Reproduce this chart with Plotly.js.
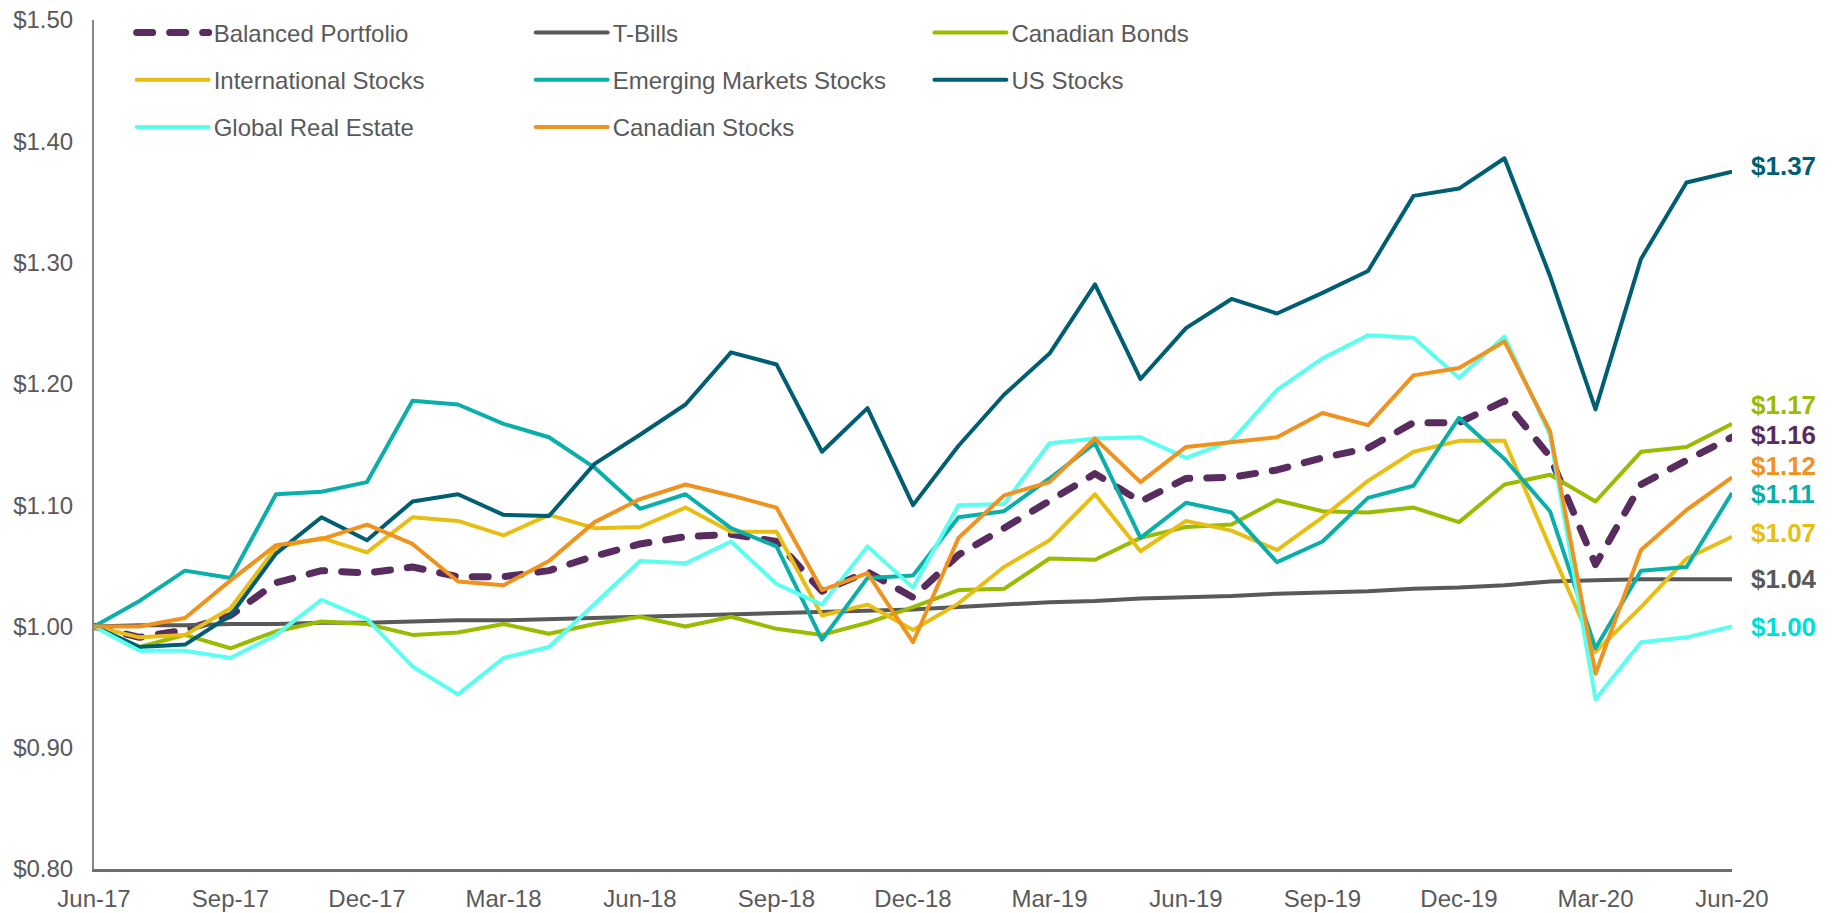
<!DOCTYPE html>
<html>
<head>
<meta charset="utf-8">
<script src="https://cdn.plot.ly/plotly-3.0.1.min.js"></script>
<style>
  html, body { margin: 0; padding: 0; background: #ffffff; }
  #chart { width: 1841px; height: 913px; }
</style>
</head>
<body>
<div id="chart"></div>
<script>
// ---------------- DATA ----------------
const months = ['Jun-17','Jul-17','Aug-17','Sep-17','Oct-17','Nov-17','Dec-17','Jan-18','Feb-18','Mar-18','Apr-18','May-18',
                'Jun-18','Jul-18','Aug-18','Sep-18','Oct-18','Nov-18','Dec-18','Jan-19','Feb-19','Mar-19','Apr-19','May-19',
                'Jun-19','Jul-19','Aug-19','Sep-19','Oct-19','Nov-19','Dec-19','Jan-20','Feb-20','Mar-20','Apr-20','May-20','Jun-20'];
const tickLabels = ['Jun-17','Sep-17','Dec-17','Mar-18','Jun-18','Sep-18','Dec-18','Mar-19','Jun-19','Sep-19','Dec-19','Mar-20','Jun-20'];

const balancedPortfolio = [1.000,0.991,0.997,1.009,1.036,1.046,1.044,1.049,1.041,1.041,1.046,1.058,
                           1.068,1.074,1.076,1.070,1.029,1.045,1.024,1.059,1.081,1.103,1.126,1.103,
                           1.122,1.123,1.129,1.139,1.147,1.168,1.168,1.186,1.140,1.051,1.117,1.137,1.156];
const tBills = [1.000,1.001,1.001,1.002,1.002,1.003,1.003,1.004,1.005,1.005,1.006,1.007,
                1.008,1.009,1.010,1.011,1.012,1.013,1.014,1.016,1.018,1.020,1.021,1.023,
                1.024,1.025,1.027,1.028,1.029,1.031,1.032,1.034,1.037,1.038,1.039,1.039,1.039];
const canadianBonds = [1.000,0.983,0.993,0.982,0.996,1.004,1.002,0.993,0.995,1.002,0.994,1.002,
                       1.008,1.000,1.008,0.998,0.993,1.003,1.016,1.030,1.031,1.056,1.055,1.073,
                       1.082,1.084,1.104,1.095,1.094,1.098,1.086,1.117,1.125,1.103,1.144,1.148,1.167];
const internationalStocks = [1.000,0.991,0.993,1.015,1.065,1.073,1.061,1.090,1.087,1.075,1.092,1.081,
                             1.082,1.098,1.078,1.078,1.009,1.018,0.997,1.019,1.049,1.071,1.109,1.062,
                             1.087,1.079,1.063,1.090,1.120,1.144,1.153,1.153,1.065,0.979,1.016,1.056,1.074];
const emergingMarketsStocks = [1.000,1.021,1.046,1.040,1.109,1.111,1.119,1.186,1.183,1.167,1.156,1.131,
                               1.097,1.109,1.081,1.066,0.989,1.040,1.042,1.090,1.095,1.122,1.151,1.073,
                               1.102,1.094,1.053,1.070,1.106,1.116,1.172,1.138,1.095,0.982,1.046,1.049,1.110];
const usStocks = [1.000,0.983,0.985,1.009,1.060,1.090,1.071,1.103,1.109,1.092,1.091,1.134,
                  1.158,1.183,1.226,1.216,1.144,1.180,1.100,1.149,1.191,1.225,1.282,1.204,
                  1.246,1.270,1.258,1.275,1.293,1.355,1.361,1.386,1.289,1.179,1.303,1.366,1.375];
const globalRealEstate = [1.000,0.980,0.980,0.974,0.993,1.022,1.006,0.967,0.944,0.974,0.983,1.018,
                          1.054,1.052,1.070,1.035,1.018,1.066,1.032,1.100,1.101,1.151,1.155,1.156,
                          1.139,1.153,1.195,1.221,1.240,1.238,1.205,1.239,1.158,0.940,0.987,0.991,1.000];
const canadianStocks = [1.000,1.000,1.007,1.038,1.067,1.072,1.084,1.068,1.037,1.034,1.054,1.086,
                        1.105,1.117,1.108,1.098,1.030,1.044,0.987,1.073,1.108,1.119,1.155,1.119,
                        1.148,1.152,1.156,1.176,1.166,1.207,1.213,1.235,1.161,0.961,1.063,1.096,1.123];

const seriesNames = ['Balanced Portfolio','T-Bills','Canadian Bonds','International Stocks',
                     'Emerging Markets Stocks','US Stocks','Global Real Estate','Canadian Stocks'];
const endLabels = ['$1.16','$1.04','$1.17','$1.07','$1.11','$1.37','$1.00','$1.12'];

// ---------------- STYLE / LAYOUT ----------------
const FONT = 'Arial, "Liberation Sans", Helvetica, sans-serif';
const GRAY = '#595959';
const seriesData = [balancedPortfolio, tBills, canadianBonds, internationalStocks,
                    emergingMarketsStocks, usStocks, globalRealEstate, canadianStocks];
const lineColors  = ['#582C5E','#595959','#99BB00','#E9BE13','#0AAFAA','#005E72','#5BFFF0','#F0921E'];
const labelColors = ['#582C5E','#595959','#99BB00','#E9BE13','#0AAFAA','#005E72','#00DEDA','#F0921E'];
const legendOf    = ['legend','legend2','legend3','legend','legend2','legend3','legend','legend2'];
// vertical placement (in axis units) of the end labels, nudged apart to avoid overlap
const labelPos    = [1.1575,1.0387,1.1825,1.0774,1.1095,1.3795,0.9992,1.1325];

const traces = seriesData.map((vals, k) => ({
  type: 'scatter',
  mode: 'lines',
  name: seriesNames[k],
  x: months,
  y: vals,
  legend: legendOf[k],
  legendgroup: 'g' + k,
  line: k === 0
    ? { color: lineColors[k], width: 7, dash: '16px,17px' }
    : { color: lineColors[k], width: 4 },
  hoverinfo: 'skip'
}));

const annotations = seriesData.map((vals, k) => ({
  x: months[months.length - 1],
  y: labelPos[k],
  xref: 'x', yref: 'y',
  text: endLabels[k],
  showarrow: false,
  xanchor: 'left', yanchor: 'middle',
  xshift: 17,
  height: 24,
  font: { family: FONT, size: 26, color: labelColors[k], weight: 700 }
}));

const legendBase = {
  yanchor: 'top', xanchor: 'left', y: 1.01,
  bgcolor: 'rgba(0,0,0,0)',
  font: { family: FONT, size: 24, color: GRAY },
  itemwidth: 72,
  tracegroupgap: 13,
  traceorder: 'grouped'
};

const layout = {
  width: 1841, height: 913,
  margin: { l: 94, r: 109, t: 19, b: 44, pad: 0 },
  paper_bgcolor: '#ffffff', plot_bgcolor: '#ffffff',
  font: { family: FONT, size: 24, color: GRAY },
  showlegend: true,
  legend:  Object.assign({}, legendBase, { x: 0.023 }),
  legend2: Object.assign({}, legendBase, { x: 0.2666 }),
  legend3: Object.assign({}, legendBase, { x: 0.510 }),
  xaxis: {
    type: 'category',
    range: [0, months.length - 1],
    tickmode: 'array', tickvals: tickLabels, ticktext: tickLabels,
    showgrid: false, zeroline: false,
    showline: true, linecolor: '#6E6E6E', linewidth: 3,
    ticks: '', tickangle: 0,
    ticklabelstandoff: 6,
    tickfont: { family: FONT, size: 24, color: GRAY }
  },
  yaxis: {
    range: [0.8, 1.5],
    tick0: 0.8, dtick: 0.1,
    tickformat: '$.2f',
    showgrid: false, zeroline: false,
    showline: true, linecolor: '#868686', linewidth: 2,
    ticks: '',
    ticklabelstandoff: 14,
    tickfont: { family: FONT, size: 24, color: GRAY }
  },
  annotations: annotations
};

Plotly.newPlot('chart', traces, layout, { staticPlot: true, displayModeBar: false }).then(() => {
  document.querySelectorAll('.scatterlayer .trace path.js-line').forEach((p, i) => {
    p.style.strokeLinejoin = 'round';
    if (i === 0) p.style.strokeLinecap = 'round';
  });
  document.querySelectorAll('.legendlines path').forEach(p => {
    p.style.strokeLinecap = 'round';
  });
});
</script>
</body>
</html>
